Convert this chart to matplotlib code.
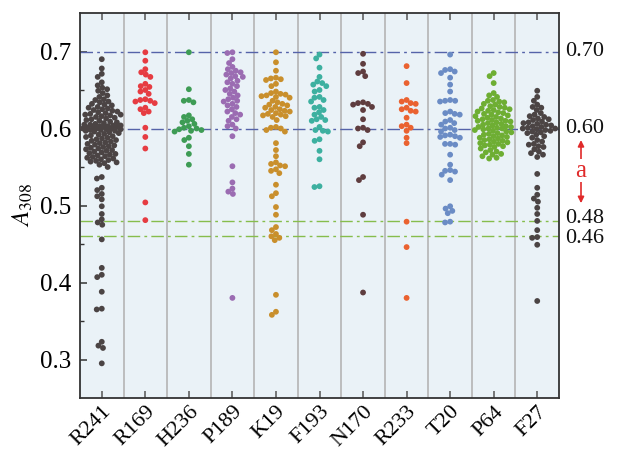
import numpy as np
import matplotlib
matplotlib.use("Agg")
import matplotlib.pyplot as plt
from matplotlib import font_manager

categories = ["R241", "R169", "H236", "P189", "K19", "F193", "N170", "R233", "T20", "P64", "F27"]

R241 = [0.690, 0.678, 0.671, 0.667, 0.660, 0.656, 0.653, 0.651, 0.649, 0.646, 0.643, 0.641, 0.638,
        0.637, 0.635, 0.634, 0.632, 0.631, 0.630, 0.628, 0.627, 0.626, 0.625, 0.624, 0.623, 0.622,
        0.621, 0.620, 0.619, 0.618, 0.618, 0.617, 0.616, 0.615, 0.614, 0.613, 0.612, 0.611, 0.610,
        0.609, 0.608, 0.607, 0.606, 0.605, 0.605, 0.604, 0.604, 0.603, 0.603, 0.602, 0.602, 0.601,
        0.601, 0.600, 0.600, 0.600, 0.599, 0.599, 0.598, 0.598, 0.597, 0.597, 0.596, 0.595, 0.594,
        0.593, 0.592, 0.591, 0.590, 0.589, 0.588, 0.587, 0.586, 0.585, 0.584, 0.583, 0.582, 0.581,
        0.580, 0.579, 0.578, 0.577, 0.576, 0.575, 0.574, 0.573, 0.572, 0.571, 0.570, 0.569, 0.568,
        0.567, 0.566, 0.565, 0.564, 0.563, 0.562, 0.561, 0.560, 0.559, 0.558, 0.557, 0.556, 0.555,
        0.553, 0.550, 0.537, 0.535, 0.523, 0.520, 0.515, 0.512, 0.508, 0.499, 0.489, 0.482, 0.478,
        0.475, 0.456, 0.419, 0.410, 0.407, 0.388, 0.366, 0.365, 0.323, 0.318, 0.315, 0.295]
R169 = [0.699, 0.688, 0.677, 0.673, 0.670, 0.667, 0.658, 0.655, 0.654, 0.650, 0.648, 0.645, 0.638,
        0.637, 0.636, 0.635, 0.633, 0.627, 0.625, 0.622, 0.620, 0.601, 0.589, 0.574, 0.504, 0.481]
H236 = [0.699, 0.651, 0.637, 0.636, 0.634, 0.617, 0.615, 0.612, 0.610, 0.608, 0.606, 0.603, 0.601,
        0.600, 0.599, 0.598, 0.597, 0.596, 0.588, 0.585, 0.577, 0.567, 0.553]
P189 = [0.699, 0.698, 0.690, 0.685, 0.680, 0.677, 0.675, 0.673, 0.672, 0.670, 0.668, 0.667, 0.665,
        0.662, 0.660, 0.658, 0.655, 0.652, 0.650, 0.648, 0.645, 0.643, 0.640, 0.638, 0.636, 0.635,
        0.632, 0.630, 0.628, 0.625, 0.622, 0.620, 0.618, 0.615, 0.612, 0.610, 0.605, 0.603, 0.600,
        0.590, 0.551, 0.530, 0.522, 0.518, 0.515, 0.380]
K19 = [0.699, 0.686, 0.675, 0.666, 0.665, 0.664, 0.663, 0.658, 0.655, 0.648, 0.646, 0.645, 0.644,
       0.643, 0.642, 0.641, 0.640, 0.636, 0.634, 0.632, 0.631, 0.630, 0.628, 0.627, 0.625, 0.624,
       0.623, 0.622, 0.620, 0.619, 0.618, 0.617, 0.616, 0.615, 0.611, 0.602, 0.601, 0.600, 0.598,
       0.596, 0.581, 0.572, 0.564, 0.556, 0.554, 0.552, 0.551, 0.547, 0.545, 0.542, 0.527, 0.516,
       0.512, 0.498, 0.488, 0.472, 0.468, 0.463, 0.460, 0.458, 0.455, 0.384, 0.362, 0.358]
F193 = [0.696, 0.691, 0.679, 0.667, 0.661, 0.659, 0.657, 0.655, 0.650, 0.648, 0.641, 0.640, 0.637,
        0.635, 0.628, 0.627, 0.624, 0.621, 0.618, 0.615, 0.612, 0.611, 0.610, 0.602, 0.598, 0.597,
        0.596, 0.586, 0.584, 0.571, 0.560, 0.525, 0.524]
N170 = [0.697, 0.684, 0.674, 0.672, 0.668, 0.634, 0.633, 0.632, 0.631, 0.628, 0.624, 0.612, 0.601,
        0.600, 0.598, 0.582, 0.577, 0.537, 0.533, 0.488, 0.387]
R233 = [0.681, 0.659, 0.637, 0.635, 0.633, 0.632, 0.627, 0.625, 0.623, 0.622, 0.614, 0.605, 0.603,
        0.601, 0.597, 0.588, 0.581, 0.479, 0.446, 0.380]
T20 = [0.696, 0.677, 0.676, 0.674, 0.672, 0.666, 0.657, 0.648, 0.637, 0.636, 0.636, 0.635, 0.622,
       0.620, 0.619, 0.618, 0.611, 0.609, 0.607, 0.605, 0.601, 0.600, 0.598, 0.596, 0.592, 0.591,
       0.590, 0.589, 0.588, 0.580, 0.580, 0.579, 0.566, 0.553, 0.546, 0.545, 0.544, 0.540, 0.533,
       0.499, 0.496, 0.493, 0.490, 0.479, 0.478]
P64 = [0.672, 0.668, 0.659, 0.646, 0.643, 0.641, 0.637, 0.636, 0.635, 0.634, 0.632, 0.631, 0.629,
       0.628, 0.627, 0.626, 0.625, 0.624, 0.623, 0.622, 0.621, 0.620, 0.619, 0.618, 0.617, 0.616,
       0.615, 0.614, 0.613, 0.612, 0.611, 0.610, 0.610, 0.609, 0.608, 0.607, 0.606, 0.605, 0.604,
       0.603, 0.602, 0.602, 0.601, 0.600, 0.600, 0.599, 0.598, 0.597, 0.596, 0.595, 0.594, 0.593,
       0.592, 0.591, 0.590, 0.589, 0.588, 0.587, 0.586, 0.585, 0.584, 0.583, 0.582, 0.581, 0.580,
       0.579, 0.578, 0.577, 0.576, 0.574, 0.572, 0.570, 0.569, 0.567, 0.566, 0.564, 0.562, 0.561]
F27 = [0.649, 0.641, 0.636, 0.631, 0.628, 0.627, 0.624, 0.620, 0.618, 0.616, 0.615, 0.613, 0.612,
       0.611, 0.609, 0.608, 0.607, 0.606, 0.605, 0.604, 0.603, 0.602, 0.601, 0.600, 0.600, 0.599,
       0.598, 0.597, 0.596, 0.595, 0.594, 0.592, 0.590, 0.588, 0.585, 0.583, 0.580, 0.579, 0.577,
       0.576, 0.573, 0.570, 0.568, 0.566, 0.563, 0.541, 0.523, 0.514, 0.509, 0.505, 0.497, 0.489,
       0.480, 0.468, 0.459, 0.458, 0.449, 0.376]

series = [R241, R169, H236, P189, K19, F193, N170, R233, T20, P64, F27]
colors = ["#4b4444", "#e63c42", "#3e9c55", "#9b6cb2", "#c98f2c", "#3db0a0",
          "#5f3d3f", "#ea6230", "#6b8cc5", "#6eae33", "#4b4444"]

ref_lines_blue = [0.70, 0.60]
ref_lines_green = [0.48, 0.46]
right_labels = ["0.70", "0.60", "0.48", "0.46"]
right_values = [0.70, 0.60, 0.48, 0.46]
arrow_range = (0.585, 0.503)
ylim = (0.25, 0.75)
yticks = [0.3, 0.4, 0.5, 0.6, 0.7]

available = {f.name for f in font_manager.fontManager.ttflist}
serif_pref = [n for n in ["Liberation Serif", "Nimbus Roman", "Times New Roman", "STIXGeneral",
                          "DejaVu Serif"] if n in available]
plt.rcParams["font.family"] = "serif"
plt.rcParams["font.serif"] = serif_pref + ["DejaVu Serif"]
plt.rcParams["mathtext.fontset"] = "stix"

W, H, DPI = 620, 453, 100
fig = plt.figure(figsize=(W / DPI, H / DPI), dpi=DPI)
L, R, B, T = 80, 559, 398, 13
ax = fig.add_axes([L / W, 1 - B / H, (R - L) / W, (B - T) / H])
ax.set_facecolor("#eaf2f7")
ax.set_xlim(-0.5, len(categories) - 0.5)
ax.set_ylim(*ylim)

px_per_x = (R - L) / len(categories)
px_per_y = (B - T) / (ylim[1] - ylim[0])

diam = 5.8
dmin = diam * 0.88
maxw = px_per_x / 2 - diam / 2


def swarm(vals):
    vals = np.asarray(vals, float)
    ypx = vals * px_per_y
    offs = np.zeros(len(vals))
    placed = []
    for i in np.argsort(-vals, kind="stable"):
        y = ypx[i]
        nb = [(x, yy) for x, yy in placed if abs(yy - y) < dmin]
        cands = [0.0]
        for x, yy in nb:
            dx = np.sqrt(dmin ** 2 - (yy - y) ** 2)
            cands += [x + dx, x - dx]
        cands = sorted(cands, key=lambda c: (abs(c), c))
        best = None
        for c in cands:
            if abs(c) > maxw + 1e-9:
                continue
            if all((c - x) ** 2 + (yy - y) ** 2 >= dmin ** 2 - 1e-6 for x, yy in nb):
                best = c
                break
        if best is None:
            grid = np.linspace(-maxw, maxw, 41)
            scores = [min((g - x) ** 2 + (yy - y) ** 2 for x, yy in nb) for g in grid]
            best = grid[int(np.argmax(scores))]
        offs[i] = best
        placed.append((best, y))
    return offs / px_per_x


for k in range(1, len(categories)):
    ax.axvline(k - 0.5, color="#b9b9b9", lw=1.3, zorder=1)

dash = (0, (9, 3, 2, 3))
for v in ref_lines_blue:
    ax.axhline(v, color="#5563a9", lw=1.0, ls=dash, zorder=2)
for v in ref_lines_green:
    ax.axhline(v, color="#86bd4c", lw=1.0, ls=dash, zorder=2)

s_area = (diam * 72 / DPI) ** 2
for i, (vals, c) in enumerate(zip(series, colors)):
    xo = swarm(vals)
    ax.scatter(i + xo, vals, s=s_area, color=c, edgecolors="none", zorder=3)

ax.set_xticks(range(len(categories)))
ax.set_xticklabels(categories, rotation=45, ha="right", va="top",
                   rotation_mode="anchor", fontsize=16)
ax.set_yticks(yticks)
ax.set_yticklabels([f"{v:.1f}" for v in yticks], fontsize=18)
ax.set_yticks([0.35, 0.45, 0.55, 0.65], minor=True)
ax.tick_params(axis="y", which="major", direction="in", length=5, width=1.1,
               color="#333333", pad=6, left=True, right=False)
ax.tick_params(axis="y", which="minor", direction="in", length=3, width=1.0,
               color="#333333", left=True, right=False)
ax.tick_params(axis="x", which="major", direction="in", length=5, width=1.1,
               color="#555555", top=True, bottom=True, pad=3)
for sp in ax.spines.values():
    sp.set_color("#333333")
    sp.set_linewidth(1.3)

ax.set_ylabel(r"$A_{308}$", fontsize=18, labelpad=4)

label_nudge = [0.0, 0.0, 0.003, -0.003]
for lab, v, dv in zip(right_labels, right_values, label_nudge):
    ax.text(1.013, v + dv, lab, transform=ax.get_yaxis_transform(), fontsize=16,
            ha="left", va="center", color="#111111")

xa = (581 - L) / (R - L)
ax.annotate("", xy=(xa, arrow_range[1]), xytext=(xa, arrow_range[0]),
            xycoords=ax.get_yaxis_transform(), textcoords=ax.get_yaxis_transform(),
            arrowprops=dict(arrowstyle="<|-|>", color="#e02a2a", lw=1.2,
                            mutation_scale=9, shrinkA=0, shrinkB=0),
            annotation_clip=False)
ax.text(xa, 0.545, "a", transform=ax.get_yaxis_transform(), fontsize=18,
        color="#e02a2a", ha="center", va="center",
        bbox=dict(facecolor="white", edgecolor="none", pad=0.3))

fig.savefig("out.png", dpi=DPI)
